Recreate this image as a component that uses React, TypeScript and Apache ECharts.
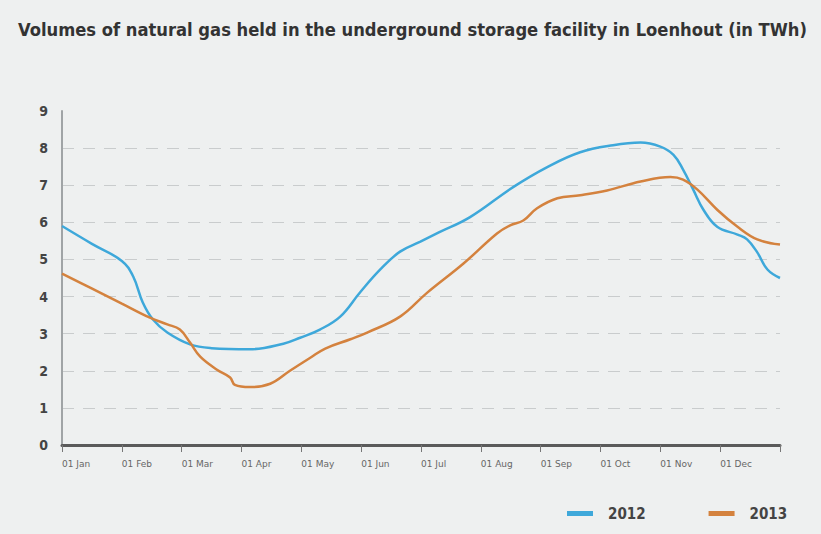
import React, { useEffect, useRef } from "react";
import * as echarts from "echarts";

const monthLabels = ["01 Jan", "01 Feb", "01 Mar", "01 Apr", "01 May", "01 Jun", "01 Jul", "01 Aug", "01 Sep", "01 Oct", "01 Nov", "01 Dec", ""];
const yTicks = [0, 1, 2, 3, 4, 5, 6, 7, 8, 9];

// position in months since 01 Jan
const x2012 = [0, 0.5, 1.0, 1.19, 1.35, 1.52, 1.76, 2.14, 2.5, 3.14, 3.7, 3.98, 4.31, 4.65, 4.98, 5.32, 5.65, 5.99, 6.29, 6.82, 7.54, 8.11, 8.66, 9.21, 9.67, 10.0, 10.22, 10.38, 10.55, 10.72, 10.95, 11.29, 11.45, 11.62, 11.79, 12.0];
const v2012 = [5.9, 5.42, 4.96, 4.54, 3.84, 3.38, 3.03, 2.71, 2.61, 2.58, 2.73, 2.89, 3.11, 3.46, 4.11, 4.73, 5.21, 5.48, 5.72, 6.14, 6.95, 7.49, 7.89, 8.08, 8.15, 8.04, 7.82, 7.42, 6.88, 6.34, 5.88, 5.67, 5.54, 5.19, 4.73, 4.5];

const x2013 = [0, 0.47, 1.0, 1.47, 1.76, 1.97, 2.14, 2.31, 2.59, 2.81, 2.89, 3.14, 3.48, 3.81, 4.15, 4.4, 4.82, 5.1, 5.65, 6.1, 6.71, 7.27, 7.49, 7.71, 7.94, 8.28, 8.66, 9.11, 9.67, 10.17, 10.38, 10.62, 10.95, 11.29, 11.62, 12.0];
const v2013 = [4.62, 4.24, 3.81, 3.43, 3.25, 3.11, 2.76, 2.38, 2.03, 1.82, 1.62, 1.56, 1.65, 2.0, 2.35, 2.6, 2.85, 3.03, 3.46, 4.1, 4.89, 5.7, 5.92, 6.05, 6.38, 6.65, 6.73, 6.86, 7.1, 7.22, 7.15, 6.88, 6.34, 5.88, 5.54, 5.4];

const seriesNames = ["2012", "2013"];
const colors = ["#3ea8da", "#d4823e"];

export default function App() {
  const ref = useRef<HTMLDivElement>(null);
  useEffect(() => {
    if (!ref.current) return;
    const chart = echarts.init(ref.current, null, { renderer: "svg" });
    const pair = (xs: number[], vs: number[]) => xs.map((x, i) => [x, vs[i]]);
    chart.setOption({
      animation: false,
      backgroundColor: "#eef0f0",
      title: {
        text: "Volumes of natural gas held in the underground storage facility in Loenhout (in TWh)",
        left: 13,
        top: 15,
        textStyle: { fontFamily: "DejaVu Sans Condensed", fontWeight: "bold", fontSize: 18.2, color: "#333" },
      },
      legend: {
        data: seriesNames,
        left: 562,
        top: 501,
        icon: "rect",
        itemWidth: 26,
        itemHeight: 5,
        itemGap: 63,
        textStyle: { fontFamily: "DejaVu Sans Condensed", fontWeight: "bold", fontSize: 15, color: "#444", padding: [0, 0, 0, 10] },
      },
      grid: { left: 62, right: 41, top: 111, bottom: 89, containLabel: false },
      xAxis: {
        type: "value",
        min: 0,
        max: 12,
        interval: 1,
        axisLine: { show: true, lineStyle: { color: "#5a5a5a", width: 3 } },
        axisTick: { show: true, length: 7, lineStyle: { color: "#777", width: 1 } },
        axisLabel: {
          formatter: (v: number) => monthLabels[Math.round(v)] ?? "",
          align: "left",
          margin: 14,
          fontFamily: "DejaVu Sans",
          fontSize: 9,
          color: "#666",
        },
        splitLine: { show: false },
      },
      yAxis: {
        type: "value",
        min: yTicks[0],
        max: yTicks[yTicks.length - 1],
        interval: 1,
        axisLine: { show: true, lineStyle: { color: "#a0a4a6", width: 2 } },
        axisTick: { show: false },
        axisLabel: {
          margin: 14,
          fontFamily: "DejaVu Sans Condensed",
          fontWeight: "bold",
          fontSize: 14,
          color: "#444",
        },
        splitLine: {
          show: true,
          showMinLine: false,
          showMaxLine: false,
          lineStyle: { color: "#c9cccd", width: 1.2, type: [12, 9] },
        },
      },
      series: [
        {
          name: seriesNames[0],
          type: "line",
          data: pair(x2012, v2012),
          smooth: 0.4,
          showSymbol: false,
          lineStyle: { color: colors[0], width: 2.5 },
          itemStyle: { color: colors[0] },
        },
        {
          name: seriesNames[1],
          type: "line",
          data: pair(x2013, v2013),
          smooth: 0.4,
          showSymbol: false,
          lineStyle: { color: colors[1], width: 2.5 },
          itemStyle: { color: colors[1] },
        },
      ],
    });
    return () => chart.dispose();
  }, []);
  return <div ref={ref} style={{ position: "absolute", left: 0, top: 0, width: 821, height: 534 }} />;
}
